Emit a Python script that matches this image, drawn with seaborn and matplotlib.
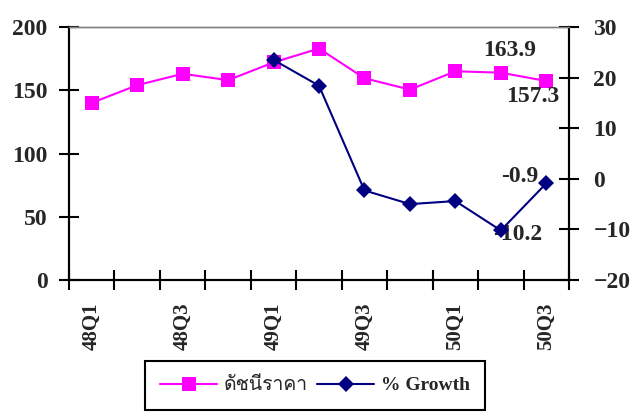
import numpy as np
import matplotlib
matplotlib.use("Agg")
import matplotlib.pyplot as plt
from matplotlib import font_manager
from matplotlib.ft2font import FT2Font
import seaborn as sns

# Quarterly price index (left axis) and its % growth (right axis)
quarters = ["48Q1", "48Q2", "48Q3", "48Q4", "49Q1", "49Q2",
            "49Q3", "49Q4", "50Q1", "50Q2", "50Q3"]
price_index = [140, 154, 163, 158, 172, 183, 159.5, 150.5, 165, 163.9, 157.3]
growth_quarters = ["49Q1", "49Q2", "49Q3", "49Q4", "50Q1", "50Q2", "50Q3"]
growth = [23.5, 18.4, -2.3, -5.0, -4.4, -10.2, -0.9]
left_ticks = [0, 50, 100, 150, 200]
right_ticks = [-20, -10, 0, 10, 20, 30]
index_label = "ดัชนีราคา"
growth_label = "% Growth"

PINK = "#FF00FF"
NAVY = "#000080"

sns.set_theme(style="white")

available = {f.name for f in font_manager.fontManager.ttflist}


def first_available(names, default="DejaVu Sans"):
    for n in names:
        if n in available:
            return n
    return default


def covers(path, text):
    try:
        cmap = FT2Font(path).get_charmap()
    except Exception:
        return False
    return all(ord(c) in cmap for c in text)


num_font = first_available(["Liberation Sans Narrow", "Liberation Serif", "DejaVu Serif"])
thai_fonts = []
for f in font_manager.fontManager.ttflist:
    if f.name not in thai_fonts and covers(f.fname, index_label):
        thai_fonts.append(f.name)
thai_family = thai_fonts[:1] + ["DejaVu Sans"]

plt.rcParams["font.family"] = [num_font, "DejaVu Sans"]

fig = plt.figure(figsize=(6.34, 4.16), dpi=100)
fig.patch.set_facecolor("white")
ax = fig.add_axes([69 / 634, 1 - 280 / 416, 500 / 634, 253 / 416])
ax2 = ax.twinx()

x_all = np.arange(len(quarters))
x_growth = np.array([quarters.index(q) for q in growth_quarters])

sns.lineplot(x=x_all, y=price_index, ax=ax, color=PINK, linewidth=1.5,
             marker="s", markersize=9.5, markeredgewidth=0,
             label=index_label, legend=False)
sns.lineplot(x=x_growth, y=growth, ax=ax2, color=NAVY, linewidth=1.5,
             marker="D", markersize=8.5, markeredgewidth=0,
             label=growth_label, legend=False)

for a in (ax, ax2):
    a.set_xlabel("")
    a.set_ylabel("")
    a.set_xlim(-0.5, len(quarters) - 0.5)
    a.grid(False)
    for side in ("left", "right", "bottom"):
        a.spines[side].set_color("black")
        a.spines[side].set_linewidth(1.5)
    a.spines["top"].set_color("#808080")
    a.spines["top"].set_linewidth(1.0)

ax.set_ylim(0, 200)
ax.set_yticks(left_ticks)
ax2.set_ylim(-20, 30)
ax2.set_yticks(right_ticks)

# category boundaries carry the tick marks, every other category gets a label
ax.set_xticks(np.arange(-0.5, len(quarters), 1.0))
ax.set_xticklabels([])
ax.set_xticks(x_all[::2], minor=True)
ax.set_xticklabels(quarters[::2], minor=True, rotation=90, fontsize=15,
                   fontweight="bold")
ax.tick_params(axis="x", which="major", direction="inout", length=15,
               width=1.5, color="black", bottom=True)
ax.tick_params(axis="x", which="minor", length=0, pad=16, bottom=True)
ax.tick_params(axis="y", direction="inout", length=15, width=1.5,
               color="black", pad=8, labelsize=17, left=True)
ax2.tick_params(axis="y", direction="inout", length=15, width=1.5,
                color="black", pad=10, labelsize=17, right=True)
for lbl in ax.get_yticklabels() + ax2.get_yticklabels():
    lbl.set_fontweight("bold")

# value labels for the last two quarters
lab_kw = dict(textcoords="offset points", ha="center", va="center",
              fontsize=17, fontweight="bold")
ax.annotate(f"{price_index[9]}", (x_all[9], price_index[9]), xytext=(6.5, 16), **lab_kw)
ax.annotate(f"{price_index[10]}", (x_all[10], price_index[10]), xytext=(-10, -11), **lab_kw)
ax2.annotate(f"{growth[6]}", (x_growth[6], growth[6]), xytext=(-19, 5), **lab_kw)
ax2.annotate(f"{growth[5]}", (x_growth[5], growth[5]), xytext=(12, -3), zorder=1, **lab_kw)

handles = ax.get_lines()[:1] + ax2.get_lines()[:1]
leg = fig.legend(handles, [index_label, growth_label], loc="center",
                 bbox_to_anchor=(315 / 634, 1 - 385.5 / 416), ncol=2,
                 frameon=True, fancybox=False, framealpha=1, edgecolor="black",
                 fontsize=14, handlelength=2.9, columnspacing=0.5,
                 handletextpad=0.35, borderpad=0.8)
leg.get_frame().set_linewidth(1.5)
leg.get_texts()[0].set_family(thai_family)
leg.get_texts()[1].set_fontweight("bold")

fig.savefig("out.png", dpi=100, facecolor="white")
